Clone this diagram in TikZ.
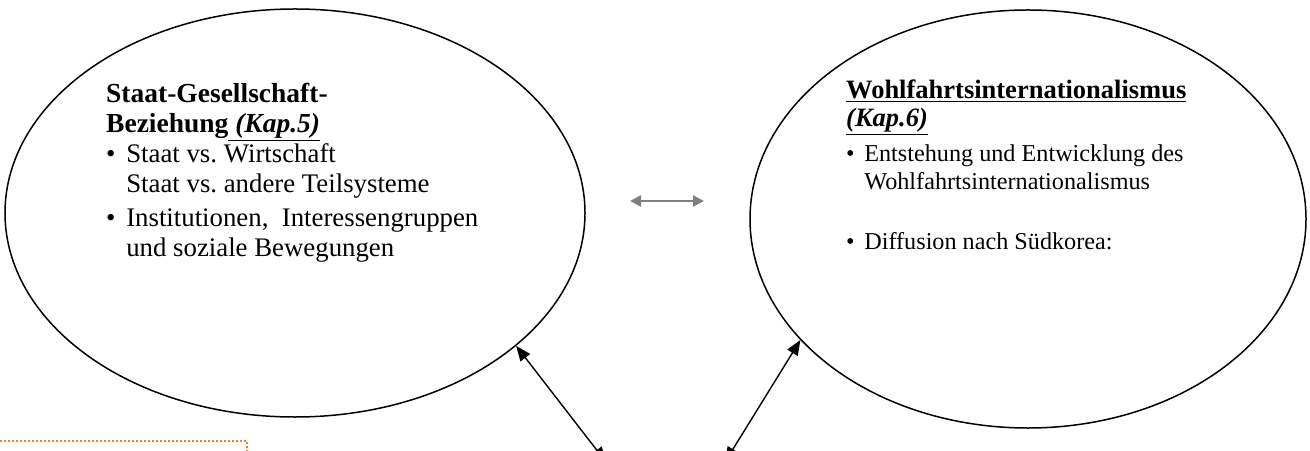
\documentclass[tikz,border=0pt]{standalone}
\usepackage{fontspec}
\setmainfont{Liberation Serif}
\usetikzlibrary{shapes.geometric, arrows.meta, positioning}
\definecolor{dotorange}{HTML}{F0802A}
\definecolor{linkgray}{HTML}{808080}

\newcommand{\blt}{\makebox[0.75em][l]{\textbullet}}
\newcommand{\ind}{\hspace*{0.75em}}

\begin{document}
\frenchspacing
\begin{tikzpicture}[
  x=1bp, y=-1bp,
  topic/.style={
    ellipse,
    draw=black,
    line width=1.5bp,
    inner sep=0pt
  },
  topictext/.style={
    anchor=base west,
    align=left,
    inner sep=0pt
  },
  link/.style={
    {Triangle[length=15bp,width=12bp]}-{Triangle[length=15bp,width=12bp]},
    line width=1.4bp
  },
  swap/.style={
    {Triangle[length=11bp,width=11bp]}-{Triangle[length=11bp,width=11bp]},
    line width=2.4bp,
    draw=linkgray
  }
]
\useasboundingbox (0,0) rectangle (1310,451);

% Ellipses
\node[topic, minimum width=580bp, minimum height=408bp] (staat) at (295,213) {};
\node[topic, minimum width=556bp, minimum height=418bp] (wohl)  at (1028,219) {};

% Texts
\node[topictext, font=\fontsize{26.8bp}{30bp}\selectfont] (staattext) at (106,257)
{\fontsize{27.5bp}{30bp}\selectfont\textbf{Staat-Gesellschaft-}\\
 \fontsize{27.5bp}{30bp}\selectfont\textbf{Beziehung}\underline{\textbf{\textit{ (Kap.5)}}}\\
 \blt Staat vs. Wirtschaft\\
 \ind Staat vs. andere Teilsysteme\\[4bp]
 \blt Institutionen,\ \ Interessengruppen\\
 \ind und soziale Bewegungen};

\node[topictext, font=\fontsize{24.2bp}{28bp}\selectfont] (wohltext) at (846,250)
{\fontsize{26.5bp}{28bp}\selectfont\underline{\textbf{Wohlfahrtsinternationalismus}}\\
 \fontsize{26.5bp}{28bp}\selectfont\underline{\textbf{\textit{(Kap.6)}}}\\[7bp]
 \blt Entstehung und Entwicklung des\\
 \ind Wohlfahrtsinternationalismus\\[32bp]
 \blt Diffusion nach Südkorea:};

% Connectors
\coordinate (gl) at (630,201);
\coordinate (gr) at (704,201);
\draw[swap] (gl) -- (gr);

\coordinate (footl) at (606,462);
\coordinate (footr) at (725,462);
\draw[link] (footl) -- (staat.-31.6);
\draw[link] (footr) -- (wohl.208.9);

% Orange dotted frame edge
\draw[dotorange, dotted, line width=2bp] (0,441) -- (247,441) -- (247,451);

\end{tikzpicture}
\end{document}
